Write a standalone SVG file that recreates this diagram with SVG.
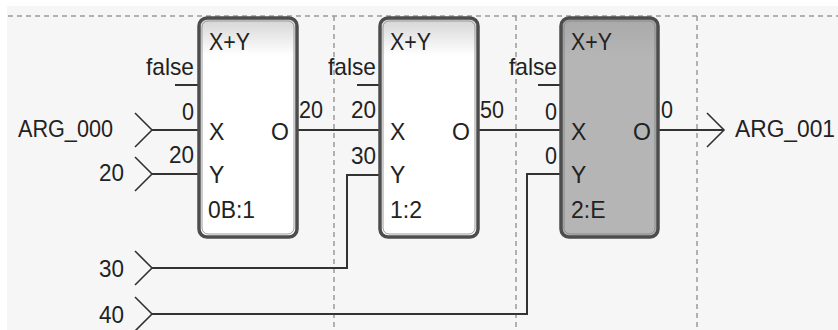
<svg xmlns="http://www.w3.org/2000/svg" width="838" height="330" viewBox="0 0 838 330">
<defs>
<linearGradient id="gw" x1="0" y1="0" x2="0" y2="1">
<stop offset="0" stop-color="#d4d4d4"/>
<stop offset="0.17" stop-color="#ffffff"/>
<stop offset="1" stop-color="#ffffff"/>
</linearGradient>
<linearGradient id="gg" x1="0" y1="0" x2="0" y2="1">
<stop offset="0" stop-color="#a9a9a9"/>
<stop offset="0.17" stop-color="#b5b5b5"/>
<stop offset="1" stop-color="#b5b5b5"/>
</linearGradient>
<style>
.grid{stroke:#9a9a9a;stroke-width:1.5;stroke-dasharray:5 4;fill:none}
.w{stroke:#333;stroke-width:2;fill:none}
.c{stroke:#333;stroke-width:1.6;fill:none}
.t{font-family:"Liberation Sans",Arial,sans-serif;font-size:23px;fill:#222}
.p{font-size:24px}
.e{text-anchor:end}
.bo{stroke:#4d4d4d;stroke-width:3.5}
.bi{fill:none;stroke:#999;stroke-width:1}
</style>
</defs>
<rect x="0" y="0" width="838" height="330" fill="#ffffff"/>
<rect x="7" y="6" width="831" height="324" fill="#f6f6f6"/>
<g id="grid">
<line class="grid" x1="8" y1="16" x2="838" y2="16"/>
<line class="grid" x1="334" y1="16" x2="334" y2="330"/>
<line class="grid" x1="516" y1="16" x2="516" y2="330"/>
<line class="grid" x1="697" y1="16" x2="697" y2="330"/>
</g>
<g id="connectors">
<path class="c" d="M135 113 L152 130 L135 147"/>
<path class="c" d="M135 157 L152 174 L135 191"/>
<path class="c" d="M135 251 L152 268 L135 285"/>
<path class="c" d="M135 297 L152 314 L135 331"/>
<path class="c" d="M707 113 L724 130 L707 147"/>
<path class="w" d="M152 130 H198"/>
<path class="w" d="M152 174 H198"/>
<path class="w" d="M152 268 H347 V175 H380"/>
<path class="w" d="M152 314 H527 V174 H561"/>
<path class="w" d="M297 130 H380"/>
<path class="w" d="M478 130 H561"/>
<path class="w" d="M658 130 H724"/>
<path class="w" d="M175 85 H198 M357 85 H380 M538 85 H561"/>
</g>
<g id="io">
<text class="t e" x="113" y="137" textLength="95" lengthAdjust="spacingAndGlyphs">ARG_000</text>
<text class="t e" x="124" y="181" textLength="25" lengthAdjust="spacingAndGlyphs">20</text>
<text class="t e" x="124" y="277" textLength="25" lengthAdjust="spacingAndGlyphs">30</text>
<text class="t e" x="124" y="323" textLength="25" lengthAdjust="spacingAndGlyphs">40</text>
<text class="t" x="735" y="137" textLength="100" lengthAdjust="spacingAndGlyphs">ARG_001</text>
</g>
<g id="block1">
<rect class="bo" x="199" y="18" width="98" height="219" rx="8" fill="url(#gw)"/>
<rect class="bi" x="202" y="21" width="92" height="213" rx="6"/>
<text class="t" x="209" y="50" textLength="41" lengthAdjust="spacingAndGlyphs">X+Y</text>
<text class="t" x="209" y="140">X</text>
<text class="t" x="271" y="140">O</text>
<text class="t" x="209" y="183">Y</text>
<text class="t" x="208" y="218" textLength="47" lengthAdjust="spacingAndGlyphs">0B:1</text>
<text class="t p e" x="194" y="75" textLength="48" lengthAdjust="spacingAndGlyphs">false</text>
<text class="t p e" x="194" y="120" textLength="12" lengthAdjust="spacingAndGlyphs">0</text>
<text class="t p e" x="194" y="163" textLength="25" lengthAdjust="spacingAndGlyphs">20</text>
<text class="t p" x="299" y="118" textLength="24" lengthAdjust="spacingAndGlyphs">20</text>
</g>
<g id="block2">
<rect class="bo" x="380" y="18" width="98" height="219" rx="8" fill="url(#gw)"/>
<rect class="bi" x="383" y="21" width="92" height="213" rx="6"/>
<text class="t" x="390" y="50" textLength="41" lengthAdjust="spacingAndGlyphs">X+Y</text>
<text class="t" x="390" y="140">X</text>
<text class="t" x="452" y="140">O</text>
<text class="t" x="390" y="183">Y</text>
<text class="t" x="390" y="218">1:2</text>
<text class="t p e" x="376" y="75" textLength="48" lengthAdjust="spacingAndGlyphs">false</text>
<text class="t p e" x="376" y="118" textLength="25" lengthAdjust="spacingAndGlyphs">20</text>
<text class="t p e" x="376" y="164" textLength="25" lengthAdjust="spacingAndGlyphs">30</text>
<text class="t p" x="480" y="118" textLength="24" lengthAdjust="spacingAndGlyphs">50</text>
</g>
<g id="block3">
<rect class="bo" x="561" y="18" width="97" height="219" rx="8" fill="url(#gg)"/>
<rect class="bi" x="564" y="21" width="91" height="213" rx="6" style="stroke:#8a8a8a"/>
<text class="t" x="571" y="50" textLength="41" lengthAdjust="spacingAndGlyphs">X+Y</text>
<text class="t" x="571" y="140">X</text>
<text class="t" x="633" y="140">O</text>
<text class="t" x="571" y="183">Y</text>
<text class="t" x="571" y="218">2:E</text>
<text class="t p e" x="557" y="75" textLength="48" lengthAdjust="spacingAndGlyphs">false</text>
<text class="t p e" x="557" y="120" textLength="12" lengthAdjust="spacingAndGlyphs">0</text>
<text class="t p e" x="557" y="164" textLength="12" lengthAdjust="spacingAndGlyphs">0</text>
<text class="t p" x="661" y="118" textLength="12" lengthAdjust="spacingAndGlyphs">0</text>
</g>
</svg>
